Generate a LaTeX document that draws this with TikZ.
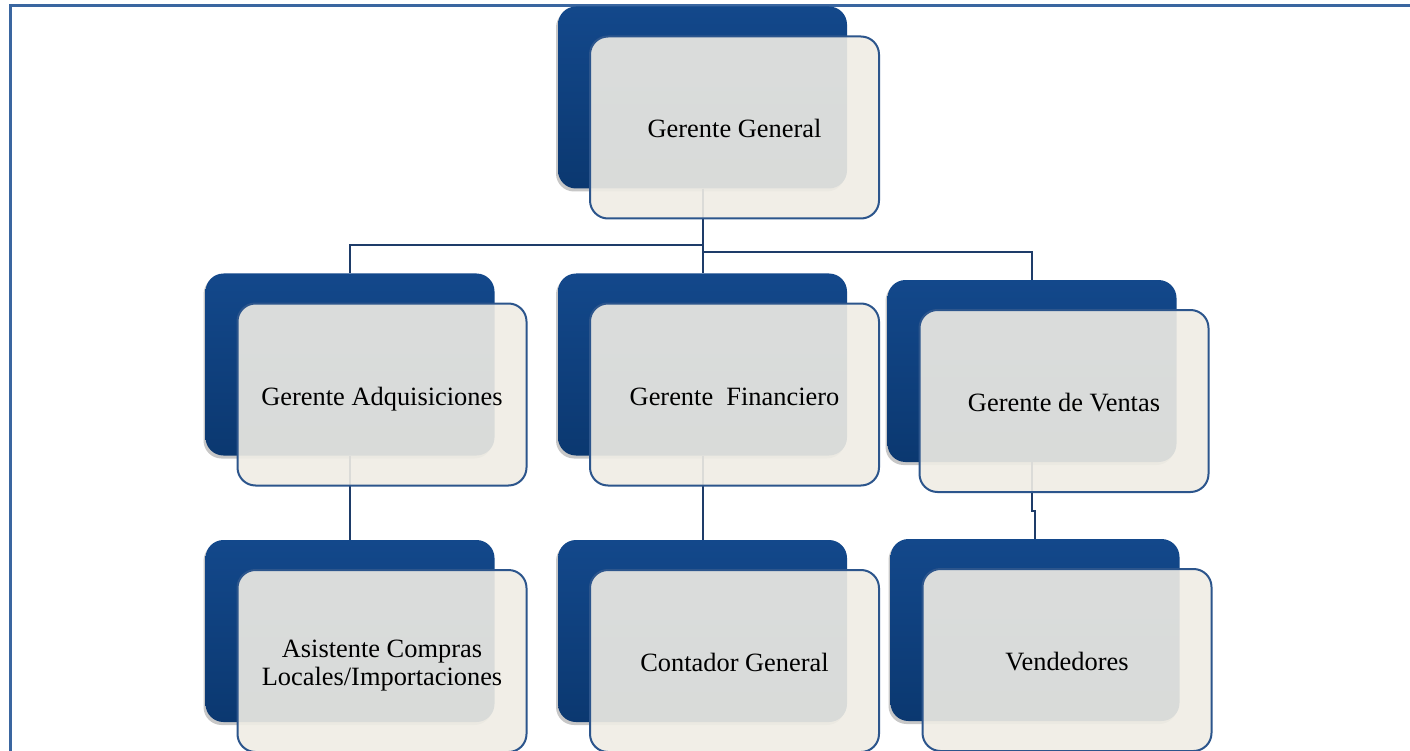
\documentclass[tikz,border=0pt]{standalone}
\usepackage{fontspec}
\setmainfont{Liberation Serif}
\usetikzlibrary{shadows}
\definecolor{darktop}{RGB}{19,72,139}
\definecolor{darkbot}{RGB}{11,56,112}
\definecolor{lightfill}{RGB}{240,237,229}
\definecolor{lightedge}{RGB}{44,85,140}
\definecolor{conn}{RGB}{30,60,105}
\definecolor{frame}{RGB}{58,102,160}
\newcommand{\lowtext}[1]{\raisebox{-5pt}[\height][\depth]{\begin{tabular}{@{}c@{}}#1\end{tabular}}}
\begin{document}
\begin{tikzpicture}[x=1pt,y=-1pt,
  darkbox/.style={rectangle, rounded corners=18pt, minimum width=289pt, minimum height=182pt,
    inner sep=0pt, top color=darktop, bottom color=darkbot, draw=none,
    drop shadow={shadow xshift=-2pt, shadow yshift=-3pt, opacity=0.22, fill=black}},
  lightbox/.style={rectangle, rounded corners=18pt, minimum width=289pt, minimum height=182pt,
    inner sep=0pt, fill=lightfill, fill opacity=0.9, text opacity=1, draw=lightedge,
    line width=2pt, align=center, text=black,
    font=\fontsize{26.4}{27.5}\selectfont},
  link/.style={draw=conn, line width=2pt}]
\useasboundingbox (0,0) rectangle (1410,751);
\fill[white] (0,0) rectangle (1410,751);
\draw[frame, line width=3pt] (10.5,751) -- (10.5,5.5) -- (1410,5.5);

% dark boxes
\node[darkbox] (topD) at (702.5,97.5) {};
\node[darkbox] (adqD) at (350,364.5) {};
\node[darkbox] (finD) at (702.5,364.5) {};
\node[darkbox] (venD) at (1032,371) {};
\node[darkbox] (asiD) at (350,631) {};
\node[darkbox] (conD) at (702.5,631) {};
\node[darkbox] (vndD) at (1035,630) {};

% connectors
\draw[link] (topD.south) -- ++(0,56.5) -| (adqD.north);
\draw[link] (topD.south) -- (finD.north);
\draw[link] (topD.south) -- ++(0,63.5) -| (venD.north);
\draw[link] (adqD.south) -- (asiD.north);
\draw[link] (finD.south) -- (conD.north);
\draw[link] (venD.south) -- ++(0,49) -| (vndD.north);

% light boxes
\node[lightbox] (topL) at (734.5,127.5) {\lowtext{Gerente General}};
\node[lightbox] (adqL) at (382,394.5) {\lowtext{Gerente Adquisiciones}};
\node[lightbox] (finL) at (734.5,394.5) {\lowtext{Gerente\ \ Financiero}};
\node[lightbox] (venL) at (1064,401) {\lowtext{Gerente de Ventas}};
\node[lightbox] (asiL) at (382,661) {\lowtext{Asistente Compras\\Locales/Importaciones}};
\node[lightbox] (conL) at (734.5,661) {\lowtext{Contador General}};
\node[lightbox] (vndL) at (1067,660) {\lowtext{Vendedores}};
\end{tikzpicture}
\end{document}
